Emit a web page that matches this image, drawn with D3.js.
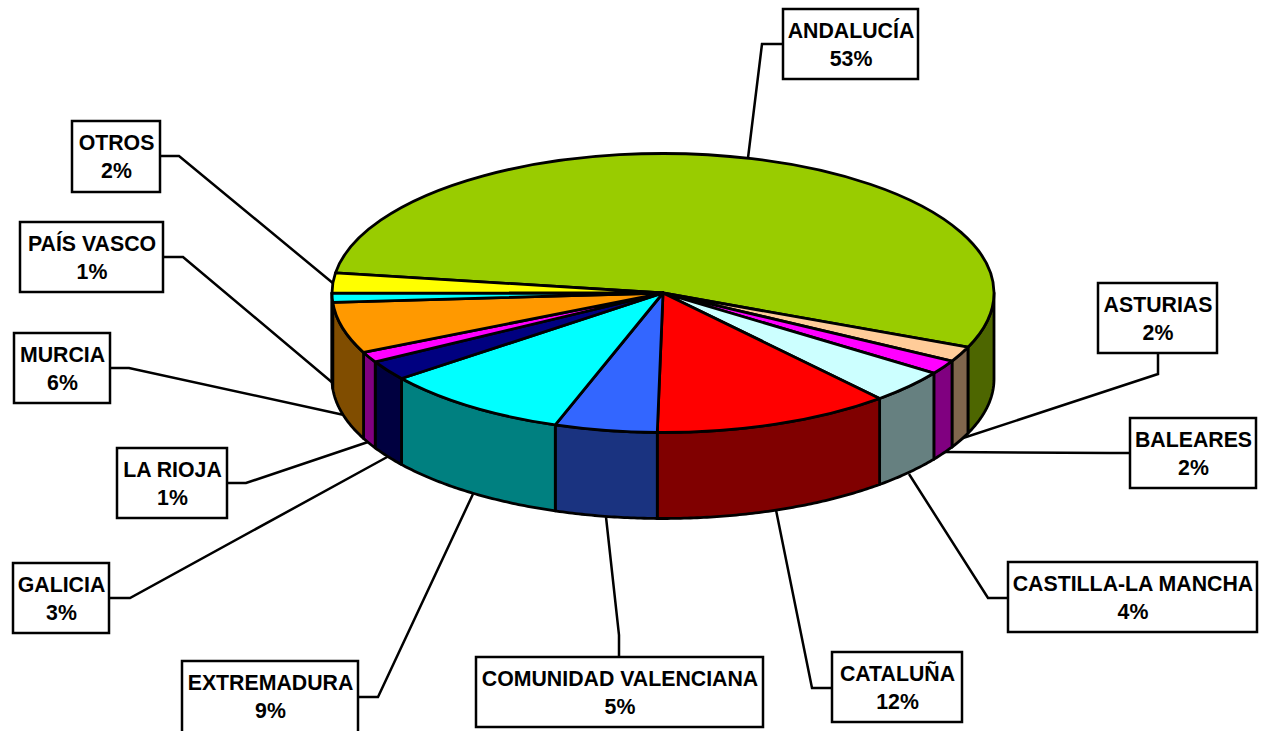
<!DOCTYPE html>
<html>
<head>
<meta charset="utf-8">
<script src="https://cdnjs.cloudflare.com/ajax/libs/d3/7.8.5/d3.min.js"></script>
<style>
    html, body { margin: 0; padding: 0; background: #fff; overflow: hidden; }
    svg { display: block; }
    text { font-family: "Liberation Sans", Arial, sans-serif; font-weight: bold; font-size: 21.3px; fill: #000; }
</style>
</head>
<body>
<div id="chart"></div>
<script>
// slices clockwise, starting at the left edge of the big green one
const categories = ["ANDALUCÍA", "ASTURIAS", "BALEARES", "CASTILLA-LA MANCHA", "CATALUÑA",
    "COMUNIDAD VALENCIANA", "EXTREMADURA", "GALICIA", "LA RIOJA", "MURCIA", "PAÍS VASCO", "OTROS"];
const shares = [54.05, 1.75, 1.64, 3.9, 11.63, 5.0, 9.22, 2.28, 1.22, 5.94, 1.06, 2.31];
// percentages printed in the label boxes
const percentLabels = ["53%", "2%", "2%", "4%", "12%", "5%", "9%", "3%", "1%", "6%", "1%", "2%"];

const topColors = ["#99CC00", "#FFCC99", "#FF00FF", "#CCFFFF", "#FF0000", "#3366FF",
    "#00FFFF", "#000080", "#FF00FF", "#FF9900", "#00FFFF", "#FFFF00"];

// label boxes: left, top, width, height
const boxes = [
    [783, 9, 135, 70], [1098, 283, 119, 70], [1130, 418, 126, 70], [1008, 562, 249, 70],
    [832, 652, 130, 70], [476, 657, 287, 70], [182, 661, 176, 72], [13, 563, 96, 70],
    [117, 448, 110, 70], [14, 333, 96, 70], [20, 222, 143, 70], [72, 121, 88, 71]
];
// leader lines from label box to the pie
const leaders = [
    [[783, 44], [762, 44], [748, 158]],
    [[1158, 353], [1158, 374], [960, 439]],
    [[1130, 453], [1110, 453], [945, 452]],
    [[1008, 598], [988, 598], [909, 474]],
    [[832, 688], [812, 688], [776, 510]],
    [[619, 657], [619, 635], [606, 517]],
    [[358, 697], [378, 697], [473, 494]],
    [[109, 598], [130, 598], [389, 456]],
    [[227, 483], [246, 483], [368, 442]],
    [[110, 368], [129, 368], [344, 415]],
    [[163, 257], [183, 257], [334, 384]],
    [[160, 156], [179, 156], [334, 284]]
];

const width = 1261;
const height = 731;
const cx = 663;
const cy = 293;
const rx = 331;
const ry = 139.5;
const depth = 86;
const START_ANGLE = 278.3 * Math.PI / 180;

const svg = d3.select("#chart").append("svg")
    .attr("width", width)
    .attr("height", height);

// leaders go first so the pie covers their ends
const line = d3.line();
svg.append("g").selectAll("path")
    .data(leaders)
    .enter().append("path")
    .attr("d", line)
    .attr("fill", "none")
    .attr("stroke", "#000")
    .attr("stroke-width", 2.5);

const pie = d3.pie()
    .sort(null)
    .startAngle(START_ANGLE)
    .endAngle(START_ANGLE + 2 * Math.PI);
const slices = pie(shares);

function rimPoint(angle, drop) {
    return [cx + rx * Math.sin(angle), cy - ry * Math.cos(angle) + drop];
}

function wallPath(d) {
    // only the front half of the rim can be seen (angles run past 360 here)
    let from = Math.max(d.startAngle, 2.5 * Math.PI);
    let to = Math.min(d.endAngle, 3.5 * Math.PI);
    if (to <= from) { return null; }
    let angles = d3.range(from, to, 0.01).concat([to]);
    let upper = angles.map(function(a) { return rimPoint(a, 0); });
    let lower = angles.slice().reverse().map(function(a) { return rimPoint(a, depth); });
    return line(upper.concat(lower)) + "Z";
}

function wallColor(i) {
    let c = d3.rgb(topColors[i]);
    return d3.rgb(c.r / 2, c.g / 2, c.b / 2).formatHex();
}

svg.append("g").selectAll("path")
    .data(slices)
    .enter().append("path")
    .attr("d", wallPath)
    .attr("fill", function(d, i) { return wallColor(i); })
    .attr("stroke", "#000")
    .attr("stroke-width", 2.8)
    .attr("stroke-linejoin", "round");

// top face is a normal d3 arc squashed into an ellipse
const arc = d3.arc().innerRadius(0).outerRadius(rx);
svg.append("g")
    .attr("transform", "translate(" + cx + "," + cy + ") scale(1," + (ry / rx) + ")")
    .selectAll("path")
    .data(slices)
    .enter().append("path")
    .attr("d", arc)
    .attr("fill", function(d, i) { return topColors[i]; })
    .attr("stroke", "#000")
    .attr("stroke-width", 2.8)
    .attr("stroke-linejoin", "round")
    .attr("vector-effect", "non-scaling-stroke");

const labels = svg.append("g").selectAll("g")
    .data(categories)
    .enter().append("g")
    .attr("transform", function(d, i) { return "translate(" + boxes[i][0] + "," + boxes[i][1] + ")"; });

labels.append("rect")
    .attr("width", function(d, i) { return boxes[i][2]; })
    .attr("height", function(d, i) { return boxes[i][3]; })
    .attr("fill", "#fff")
    .attr("stroke", "#000")
    .attr("stroke-width", 2.5);

labels.append("text")
    .attr("x", function(d, i) { return boxes[i][2] / 2 + 0.5; })
    .attr("y", 28.5)
    .attr("text-anchor", "middle")
    .text(function(d) { return d; });

labels.append("text")
    .attr("x", function(d, i) { return boxes[i][2] / 2 + 0.5; })
    .attr("y", 56.5)
    .attr("text-anchor", "middle")
    .text(function(d, i) { return percentLabels[i]; });
</script>
</body>
</html>
